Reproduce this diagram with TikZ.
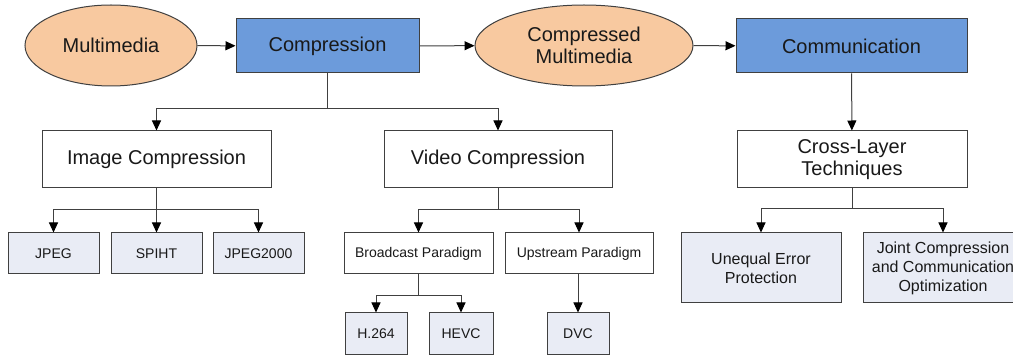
\documentclass[tikz,border=0pt]{standalone}
\usepackage{fontspec}
\setmainfont{Liberation Sans}
\usetikzlibrary{arrows.meta,shapes.geometric}
\definecolor{peach}{HTML}{F8C9A0}
\definecolor{bluebox}{HTML}{6C9BDB}
\definecolor{lightbox}{HTML}{E9ECF5}
\definecolor{edge}{HTML}{404040}
\tikzset{
  base/.style={draw=edge, line width=1pt, inner sep=0pt, align=center, text=black!90},
  big/.style={font=\fontsize{20}{22.5}\selectfont},
  mid/.style={font=\fontsize{16}{19}\selectfont},
  small/.style={font=\fontsize{14}{16}\selectfont},
  oval/.style={base, big, ellipse, fill=peach},
  bluebx/.style={base, big, rectangle, fill=bluebox},
  whitebx/.style={base, rectangle, fill=white},
  leafbx/.style={base, rectangle, fill=lightbox},
  arr/.style={draw=edge, line width=1pt, -{Triangle[length=10pt,width=9pt,color=black]}},
  ln/.style={draw=edge, line width=1pt}
}
\begin{document}
\begin{tikzpicture}[x=1pt,y=-1pt]
\useasboundingbox (0,0) rectangle (1013,358);
\fill[white] (0,0) rectangle (1013,358);
% top row
\node[oval, minimum width=172pt, minimum height=81pt] (mm) at (111,45.5) {Multimedia};
\node[bluebx, minimum width=183pt, minimum height=54pt] (comp) at (327.5,46) {Compression};
\node[oval, minimum width=218pt, minimum height=81pt] (cmm) at (584,45.5) {Compressed\\Multimedia};
\node[bluebx, minimum width=231pt, minimum height=54pt] (comm) at (851.5,46) {Communication};
% second row
\node[whitebx, big, minimum width=229pt, minimum height=57pt] (img) at (156.5,159.5) {Image Compression};
\node[whitebx, big, minimum width=228pt, minimum height=57pt] (vid) at (498,159.5) {Video Compression};
\node[whitebx, big, minimum width=230pt, minimum height=57pt] (cl) at (852,159.5) {Cross-Layer\\Techniques};
% third row
\node[leafbx, small, minimum width=91pt, minimum height=41pt] (jpeg) at (53.5,253.5) {JPEG};
\node[leafbx, small, minimum width=91pt, minimum height=41pt] (spiht) at (156.5,253.5) {SPIHT};
\node[leafbx, small, minimum width=91pt, minimum height=41pt] (j2k) at (258.5,253.5) {JPEG2000};
\node[whitebx, small, minimum width=149pt, minimum height=41pt] (bp) at (418.5,253.5) {Broadcast Paradigm};
\node[whitebx, small, minimum width=148pt, minimum height=41pt] (up) at (579,253.5) {Upstream Paradigm};
\node[leafbx, mid, minimum width=160pt, minimum height=70pt] (uep) at (761,268) {Unequal Error\\Protection};
\node[leafbx, mid, minimum width=160pt, minimum height=70pt] (jcc) at (943,268) {Joint Compression\\and Communication\\Optimization};
% fourth row
\node[leafbx, small, minimum width=62pt, minimum height=42pt] (h264) at (376,334) {H.264};
\node[leafbx, small, minimum width=64pt, minimum height=42pt] (hevc) at (461,334) {HEVC};
\node[leafbx, small, minimum width=62pt, minimum height=42pt] (dvc) at (578,334) {DVC};
% junctions
\coordinate (j1) at (327.5,109);
\coordinate (j2) at (156.5,210);
\coordinate (j3) at (498,210);
\coordinate (j4) at (418.5,296);
\coordinate (j5) at (852,209);
% connectors
\draw[arr] (mm) -- (comp);
\draw[arr] (comp) -- (cmm);
\draw[arr] (cmm) -- (comm);
\draw[arr] (comm) -- (cl);
\draw[ln] (comp) -- (j1);
\draw[arr] (j1) -| (img);
\draw[arr] (j1) -| (vid);
\draw[ln] (img) -- (j2);
\draw[arr] (j2) -| (jpeg);
\draw[arr] (j2) -- (spiht);
\draw[arr] (j2) -| (j2k);
\draw[ln] (vid) -- (j3);
\draw[arr] (j3) -| (bp);
\draw[arr] (j3) -| (up);
\draw[ln] (bp) -- (j4);
\draw[arr] (j4) -| (h264);
\draw[arr] (j4) -| (hevc);
\draw[arr] (up.south -| dvc.north) -- (dvc);
\draw[ln] (cl) -- (j5);
\draw[arr] (j5) -| (uep);
\draw[arr] (j5) -| (jcc);
\end{tikzpicture}
\end{document}
